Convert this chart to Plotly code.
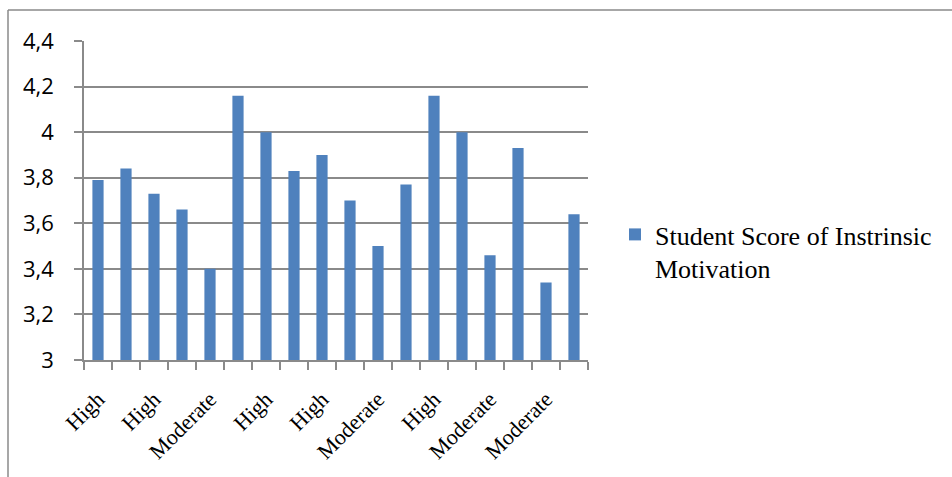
import plotly.graph_objects as go

# ---- data ----
scores = [3.79, 3.84, 3.73, 3.66, 3.40, 4.16, 4.00, 3.83, 3.90,
          3.70, 3.50, 3.77, 4.16, 4.00, 3.46, 3.93, 3.34, 3.64]
shown_labels = ["High", "High", "Moderate", "High", "High",
                "Moderate", "High", "Moderate", "Moderate"]
y_ticks = [3.0, 3.2, 3.4, 3.6, 3.8, 4.0, 4.2, 4.4]
y_tick_labels = ["3", "3,2", "3,4", "3,6", "3,8", "4", "4,2", "4,4"]
series_name = "Student Score of Instrinsic<br>Motivation"

positions = list(range(1, len(scores) + 1))
label_positions = positions[::2][:len(shown_labels)]

W, H = 952, 477
ML, MR, MT, MB = 84, 364, 41, 117
pw, ph = W - ML - MR, H - MT - MB

def px_x(px):
    return (px - ML) / pw

def px_y(py):
    return (H - MB - py) / ph

GRID = "#8a8a8a"

fig = go.Figure()
fig.add_trace(go.Bar(
    x=positions, y=scores, name=series_name,
    marker=dict(color="#4F81BD", line=dict(width=0)),
    width=0.4, showlegend=True,
))

fig.update_layout(
    width=W, height=H,
    margin=dict(l=ML, r=MR, t=MT, b=MB, pad=0),
    paper_bgcolor="white", plot_bgcolor="white",
    showlegend=True,
    legend=dict(
        x=px_x(615), y=px_y(211), xanchor="left", yanchor="top",
        font=dict(family="Liberation Serif", size=26, color="#000"),
        valign="top", itemwidth=30, bgcolor="rgba(0,0,0,0)",
    ),
    xaxis=dict(
        range=[0.5, len(scores) + 0.5],
        tickmode="array", tickvals=label_positions, ticktext=shown_labels,
        tickangle=-45, ticks="outside", ticklen=8,
        tickcolor="rgba(0,0,0,0)", showgrid=False, zeroline=False,
        showline=True, linecolor=GRID, linewidth=1.5,
        tickfont=dict(family="Liberation Serif", size=22, color="#000"),
        ticklabelstandoff=8,
        minor=dict(tickmode="linear", tick0=0.5, dtick=1, ticks="outside",
                   ticklen=8, tickcolor=GRID, tickwidth=1.5, showgrid=False),
        fixedrange=True,
    ),
    yaxis=dict(
        range=[3.0, 4.4],
        tickmode="array", tickvals=y_ticks, ticktext=y_tick_labels,
        ticks="outside", ticklen=8, tickcolor=GRID, tickwidth=1.5,
        showgrid=True, gridcolor=GRID, gridwidth=1.5, zeroline=False,
        showline=True, linecolor=GRID, linewidth=1.5,
        tickfont=dict(family="Open Sans", size=22, color="#000"),
        ticklabelstandoff=16,
        fixedrange=True,
    ),
    shapes=[
        dict(type="line", xref="paper", yref="paper",
             x0=px_x(8), x1=px_x(W + 5), y0=px_y(10), y1=px_y(10),
             line=dict(color=GRID, width=1.5)),
        dict(type="line", xref="paper", yref="paper",
             x0=px_x(8), x1=px_x(8), y0=px_y(10), y1=px_y(H + 5),
             line=dict(color=GRID, width=1.5)),
    ],
)

fig.write_html("out.html", config={"displayModeBar": False})
